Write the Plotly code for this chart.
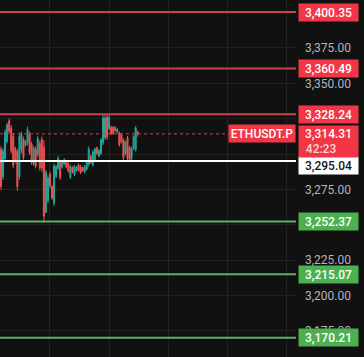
import plotly.graph_objects as go

# ---- data -------------------------------------------------------------
candle_open = [3303.5, 3284.0, 3297.0, 3309.0, 3323.5, 3318.5, 3312.5, 3304.0, 3302.0, 3284.0,
               3302.5, 3310.5, 3306.0, 3308.0, 3314.0, 3307.0, 3293.0, 3303.5, 3300.0, 3307.5,
               3310.5, 3305.0, 3259.0, 3267.0, 3286.0, 3277.0, 3265.5, 3284.0, 3290.0, 3294.5,
               3291.0, 3293.0, 3294.5, 3293.5, 3283.5, 3290.5, 3285.5, 3288.5, 3292.5, 3291.0,
               3290.5, 3287.5, 3289.5, 3292.5, 3298.5, 3292.5, 3296.0, 3304.5, 3298.5, 3300.5,
               3308.0, 3311.5, 3326.0, 3318.0, 3319.0, 3319.0, 3319.0, 3315.5, 3315.0, 3313.5,
               3310.0, 3300.5, 3311.5, 3304.5, 3297.0, 3304.0, 3303.0, 3315.5]
candle_high = [3305.7, 3304.1, 3317.5, 3322.2, 3325.3, 3320.6, 3314.7, 3305.3, 3303.4, 3315.2,
               3315.9, 3312.3, 3310.0, 3319.4, 3315.9, 3308.8, 3305.7, 3305.3, 3312.8, 3309.5,
               3312.3, 3310.0, 3288.8, 3285.2, 3287.6, 3278.2, 3293.5, 3292.3, 3298.7, 3295.8,
               3295.8, 3297.0, 3295.8, 3294.7, 3292.3, 3291.6, 3292.3, 3291.6, 3293.5, 3292.3,
               3291.1, 3292.3, 3295.8, 3305.3, 3299.4, 3302.9, 3304.6, 3305.3, 3303.4, 3311.2,
               3327.6, 3327.6, 3327.6, 3327.6, 3319.9, 3319.9, 3319.4, 3318.2, 3315.9, 3314.7,
               3311.2, 3309.5, 3312.8, 3305.7, 3305.3, 3313.5, 3319.9, 3316.6]
candle_low = [3274.6, 3281.7, 3294.7, 3307.6, 3314.7, 3300.5, 3289.9, 3293.5, 3274.2, 3281.7,
              3300.5, 3295.8, 3305.3, 3306.4, 3299.4, 3292.3, 3291.6, 3289.9, 3298.2, 3288.3,
              3287.6, 3251.6, 3258.2, 3265.2, 3275.8, 3267.6, 3263.3, 3282.9, 3288.8, 3281.7,
              3289.9, 3292.3, 3289.9, 3286.9, 3282.4, 3286.4, 3284.5, 3287.6, 3287.6, 3285.9,
              3287.6, 3286.4, 3288.3, 3291.1, 3293.0, 3291.1, 3294.7, 3299.4, 3297.7, 3299.4,
              3306.4, 3310.0, 3310.0, 3317.0, 3313.5, 3313.5, 3315.9, 3314.7, 3305.3, 3307.6,
              3295.8, 3299.4, 3295.8, 3294.7, 3295.8, 3302.9, 3301.7, 3312.3]
candle_close = [3277.0, 3302.0, 3315.5, 3320.5, 3316.0, 3302.5, 3292.0, 3295.0, 3277.0, 3312.5,
                3314.0, 3297.5, 3309.0, 3317.5, 3301.0, 3294.0, 3304.0, 3291.5, 3311.0, 3290.5,
                3290.0, 3256.0, 3287.0, 3283.0, 3277.5, 3269.0, 3291.5, 3291.0, 3297.0, 3283.5,
                3294.5, 3296.0, 3291.0, 3288.0, 3291.0, 3287.5, 3291.0, 3290.8, 3288.5, 3287.0,
                3288.3, 3291.0, 3294.5, 3303.5, 3294.0, 3301.5, 3303.5, 3300.5, 3302.5, 3310.0,
                3325.5, 3325.5, 3312.0, 3326.0, 3314.5, 3314.5, 3316.5, 3317.5, 3306.5, 3308.5,
                3297.5, 3308.5, 3297.0, 3296.0, 3304.0, 3312.5, 3318.5, 3314.31]
candle_index = list(range(len(candle_open)))

resistance_levels = [3400.35, 3360.49, 3328.24]
support_levels = [3252.37, 3215.07, 3170.21]
reference_level = 3295.04
last_price = 3314.31
symbol = "ETHUSDT.P"
countdown = "42:23"
price_ticks = [3175, 3200, 3225, 3250, 3275, 3300, 3325, 3350, 3375, 3400]
# labels that sit under the price boxes are hidden in the reference
price_tick_text = ["3,175.00", "3,200.00", "3,225.00", "", "3,275.00", "", "", "3,350.00",
                   "3,375.00", ""]
time_grid = [24, 53, 82, 111, 140]

# ---- style ------------------------------------------------------------
BG = "#111111"
GRID = "#222222"
UP = "#26a69a"
DOWN = "#ef5350"
RED_LINE = "#c8434d"
RED_BOX = "#f23645"
GREEN_LINE = "#66ad66"
GREEN_BOX = "#4caf50"
FONT = "Roboto, 'Liberation Sans', sans-serif"

fig = go.Figure()
fig.add_trace(go.Candlestick(
    x=candle_index, open=candle_open, high=candle_high, low=candle_low, close=candle_close,
    increasing=dict(line=dict(color=UP, width=1), fillcolor=UP),
    decreasing=dict(line=dict(color=DOWN, width=1), fillcolor=DOWN),
    whiskerwidth=0, showlegend=False, hoverinfo="skip",
))

shapes = []
annotations = []


def level_line(y, color, width, dash="solid"):
    shapes.append(dict(type="line", xref="paper", x0=0, x1=1, yref="y", y0=y, y1=y,
                       line=dict(color=color, width=width, dash=dash), layer="above"))


def price_box(y, bg, fg, yshift=0):
    annotations.append(dict(xref="paper", x=1, xanchor="left", xshift=2,
                            yref="y", y=y, yanchor="middle", yshift=yshift,
                            text=f"{y:,.2f}", showarrow=False, bgcolor=bg,
                            width=57, height=15, borderpad=1, align="center",
                            font=dict(family=FONT, size=12, color=fg, weight=500)))


for lv in resistance_levels:
    level_line(lv, RED_LINE, 2)
    price_box(lv, RED_BOX, "#ffffff")
for lv in support_levels:
    level_line(lv, GREEN_LINE, 2)
    price_box(lv, GREEN_BOX, "#ffffff")

level_line(reference_level, "#ffffff", 2)
price_box(reference_level, "#ffffff", "#131313", yshift=-4)

level_line(last_price, RED_BOX, 1, dash="dot")

annotations.append(dict(xref="paper", x=1, xanchor="left", xshift=2,
                        yref="y", y=last_price, yanchor="middle", yshift=-7.5,
                        text=f"{last_price:,.2f}<br><span style='color:#fcd3d6'>{countdown}"
                             "&nbsp;&nbsp;&nbsp;&nbsp;&nbsp;</span>",
                        showarrow=False, bgcolor=RED_BOX, width=57, height=29, borderpad=1,
                        align="center",
                        font=dict(family=FONT, size=12, color="#ffffff", weight=500)))
annotations.append(dict(xref="paper", x=1, xanchor="right", xshift=0,
                        yref="y", y=last_price, yanchor="middle",
                        text=symbol, showarrow=False, bgcolor=RED_BOX,
                        width=64, height=15, borderpad=1, align="center",
                        font=dict(family=FONT, size=12, color="#ffffff", weight=500)))

fig.update_layout(
    width=364, height=357,
    margin=dict(l=0, r=68, t=0, b=0),
    paper_bgcolor=BG, plot_bgcolor=BG,
    shapes=shapes, annotations=annotations,
    showlegend=False,
    font=dict(family=FONT, size=12, color="#b2b5be"),
    xaxis=dict(range=[-0.5, 144.6], rangeslider=dict(visible=False),
               tickvals=time_grid, showticklabels=False, showgrid=True,
               gridcolor=GRID, gridwidth=1, zeroline=False, showline=False, fixedrange=True),
    yaxis=dict(range=[3156.6, 3408.9], side="right", tickvals=price_ticks,
               ticktext=price_tick_text, showgrid=True, gridcolor=GRID, gridwidth=1,
               zeroline=False, showline=False, ticks="", ticklabelstandoff=8,
               tickfont=dict(family=FONT, size=12, color="#b2b5be"), fixedrange=True),
)

fig.write_html("out.html", config=dict(displayModeBar=False),
               post_script="document.body.style.margin='0';document.body.style.background='#111111';")
